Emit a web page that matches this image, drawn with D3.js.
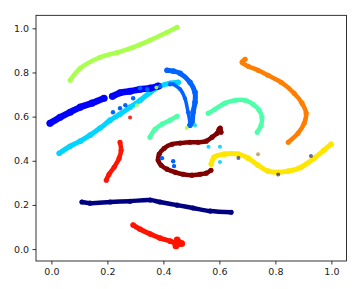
<!DOCTYPE html>
<html><head><meta charset="utf-8">
<script src="https://cdn.jsdelivr.net/npm/d3@7"></script>
<style>body{margin:0;background:#fff}svg{display:block}</style>
</head><body>
<svg id="c" width="362" height="289"></svg>
<script>
// ---- data ----
const classColors = ["#000080","#0000ff","#0063ff","#00d4ff","#4dffa9","#a9ff4d","#ffe600","#ff7d00","#ff1400","#800000"];
const xTicks = [0, 0.2, 0.4, 0.6, 0.8, 1.0];
const yTicks = [0, 0.2, 0.4, 0.6, 0.8, 1.0];

const class0Trail = [[0.109,0.213],[0.138,0.208],[0.210,0.213],[0.281,0.217],[0.353,0.222],[0.388,0.213],[0.449,0.199],[0.506,0.186],[0.567,0.172],[0.642,0.167]];
const class1Left = [[-0.005,0.570],[0.031,0.597],[0.067,0.620],[0.103,0.643],[0.145,0.661],[0.188,0.683]];
const class1Right = [[0.218,0.692],[0.245,0.708],[0.281,0.715],[0.317,0.724],[0.353,0.729],[0.381,0.738]];
const class2Outer = [[0.413,0.810],[0.436,0.806],[0.460,0.796],[0.495,0.756],[0.513,0.710],[0.513,0.665],[0.506,0.620],[0.502,0.575],[0.495,0.561]];
const class2Inner = [[0.435,0.747],[0.460,0.724],[0.477,0.683],[0.488,0.620],[0.495,0.575]];
const class2Bits = [[0.220,0.620],[0.245,0.638],[0.264,0.652],[0.292,0.683],[0.317,0.729],[0.342,0.724],[0.388,0.738],[0.424,0.747],[0.395,0.412],[0.435,0.398],[0.438,0.376]];
const class3Trail = [[0.028,0.434],[0.067,0.466],[0.103,0.489],[0.138,0.516],[0.174,0.548],[0.210,0.584],[0.245,0.611],[0.281,0.643],[0.317,0.674],[0.353,0.710],[0.388,0.738],[0.424,0.751],[0.453,0.756]];
const class4ArcA = [[0.352,0.507],[0.370,0.543],[0.395,0.566],[0.424,0.584],[0.449,0.602]];
const class4ArcB = [[0.560,0.615],[0.584,0.633],[0.620,0.661],[0.656,0.674],[0.692,0.674],[0.720,0.656],[0.742,0.629],[0.752,0.597],[0.749,0.561],[0.735,0.529]];
const class5Trail = [[0.067,0.765],[0.103,0.819],[0.174,0.869],[0.235,0.891],[0.292,0.914],[0.352,0.946],[0.413,0.982],[0.449,1.005]];
const class6Trail = [[0.571,0.385],[0.581,0.416],[0.617,0.430],[0.667,0.430],[0.703,0.412],[0.738,0.380],[0.774,0.353],[0.810,0.348],[0.846,0.353],[0.892,0.371],[0.939,0.412],[0.974,0.448],[0.999,0.475]];
const class7Trail = [[0.692,0.860],[0.681,0.846],[0.703,0.828],[0.738,0.810],[0.774,0.787],[0.820,0.756],[0.867,0.706],[0.895,0.661],[0.910,0.615],[0.903,0.570],[0.881,0.525],[0.846,0.484]];
const class8Lower = [[0.292,0.109],[0.317,0.090],[0.353,0.068],[0.388,0.050],[0.424,0.036],[0.449,0.023],[0.460,0.023]];
const class8Blob = [[0.449,0.041],[0.455,0.030],[0.465,0.025],[0.445,0.015]];
const class8Upper = [[0.245,0.484],[0.249,0.448],[0.242,0.412],[0.224,0.371],[0.206,0.339],[0.196,0.312]];
const class9Trail = [[0.606,0.529],[0.603,0.548],[0.599,0.543],[0.592,0.525],[0.574,0.507],[0.553,0.489],[0.524,0.484],[0.495,0.484],[0.460,0.480],[0.431,0.475],[0.403,0.457],[0.385,0.430],[0.381,0.403],[0.392,0.380],[0.413,0.362],[0.442,0.348],[0.470,0.339],[0.502,0.335],[0.531,0.339],[0.553,0.344],[0.570,0.357]];
// stray points: [x, y, class]
const strayPoints = [[0.281,0.596,8],[0.561,0.463,3],[0.602,0.463,3],[0.602,0.395,3],[0.513,0.561,3],[0.483,0.548,5],[0.305,0.652,5],[0.375,0.732,5],[0.738,0.430,7],[0.668,0.413,0],[0.810,0.338,0],[0.927,0.422,0]];

// ---- drawing ----
const svg = d3.select("#c");
const x = d3.scaleLinear().domain([-0.055, 1.054]).range([36, 346.5]);
const y = d3.scaleLinear().domain([-0.054, 1.059]).range([261, 15.3]);

const series = [
  {pts: class0Trail, c: 0, w: 4.5},
  {pts: class5Trail, c: 5, w: 4.5},
  {pts: class3Trail, c: 3, w: 5},
  {pts: class1Left, c: 1, w: 6.5},
  {pts: class1Right, c: 1, w: 6.5},
  {pts: class2Outer, c: 2, w: 5},
  {pts: class2Inner, c: 2, w: 3.5},
  {pts: class4ArcA, c: 4, w: 4.5},
  {pts: class4ArcB, c: 4, w: 4.5},
  {pts: class6Trail, c: 6, w: 5},
  {pts: class7Trail, c: 7, w: 4.5},
  {pts: class8Lower, c: 8, w: 5},
  {pts: class8Upper, c: 8, w: 4.5},
  {pts: class9Trail, c: 9, w: 4.5}
];

const line = d3.line().x(d => x(d[0])).y(d => y(d[1])).curve(d3.curveCatmullRom.alpha(0.5));
const g = svg.append("g");
series.forEach(s => {
  g.append("path").attr("d", line(s.pts)).attr("fill", "none")
    .attr("stroke", classColors[s.c]).attr("stroke-width", s.w)
    .attr("stroke-linecap", "round").attr("stroke-linejoin", "round");
  g.selectAll(null).data(s.pts).join("circle")
    .attr("cx", d => x(d[0])).attr("cy", d => y(d[1])).attr("r", s.w / 2 + 0.3)
    .attr("fill", classColors[s.c]);
});
g.selectAll(null).data(class2Bits).join("circle")
  .attr("cx", d => x(d[0])).attr("cy", d => y(d[1])).attr("r", 2.2).attr("fill", classColors[2]);
g.selectAll(null).data(class8Blob).join("circle")
  .attr("cx", d => x(d[0])).attr("cy", d => y(d[1])).attr("r", 3.5).attr("fill", classColors[8]);
g.selectAll(null).data(strayPoints).join("circle")
  .attr("cx", d => x(d[0])).attr("cy", d => y(d[1])).attr("r", 2)
  .attr("fill", d => d[2] === 7 ? "#c8a064" : classColors[d[2]])
  .attr("opacity", d => d[2] === 0 ? 0.6 : 0.9);

// axes
const fmt = d3.format(".1f");
const xa = svg.append("g").attr("transform", "translate(0,261)")
  .call(d3.axisBottom(x).tickValues(xTicks).tickFormat(fmt).tickSize(3.5).tickPadding(3.5));
const ya = svg.append("g").attr("transform", "translate(36,0)")
  .call(d3.axisLeft(y).tickValues(yTicks).tickFormat(fmt).tickSize(3.5).tickPadding(3.5));
[xa, ya].forEach(a => {
  a.select(".domain").remove();
  a.selectAll("line").attr("stroke", "#000").attr("stroke-width", 0.8);
  a.selectAll("text").attr("font-family", "DejaVu Sans").attr("font-size", "9.5px").attr("fill", "#222");
});
svg.append("rect").attr("x", 36).attr("y", 15.3).attr("width", 310.5).attr("height", 245.7)
  .attr("fill", "none").attr("stroke", "#000").attr("stroke-width", 0.8);
</script>
</body></html>
